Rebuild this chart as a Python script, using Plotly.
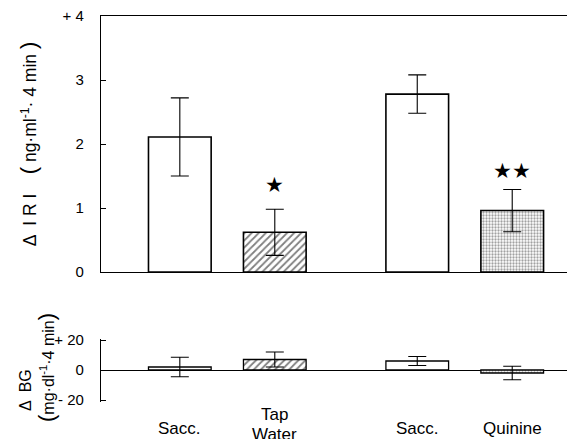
import plotly.graph_objects as go

# ---- data ----
categories = ["Sacc.", "Tap<br>Water", "Sacc.", "Quinine"]
x_pos = [1, 2, 3.5, 4.5]
iri_mean = [2.11, 0.62, 2.78, 0.96]
iri_sem = [0.61, 0.36, 0.30, 0.33]
bg_mean = [2.0, 7.0, 6.0, -2.0]
bg_sem = [6.5, 5.0, 3.0, 4.5]
stars = ["", "★", "", "★★"]
star_y = [None, 1.36, None, 1.58]
iri_ticks = [0, 1, 2, 3, 4]
iri_ticktext = ["0", "1", "2", "3", "+ 4"]
bg_ticks = [-20, 0, 20]
bg_ticktext = ["- 20", "0", "+ 20"]

# page is 575x439, body has an 8px margin; figure runs to the page's right/bottom edge
OFF = 8
W, H = 575 - OFF, 439 - OFF
FONT = "Liberation Sans, Arial, Helvetica, sans-serif"


def px(x):
    return (x - OFF) / W


def py(y):
    return 1 - (y - OFF) / H


patterns = [
    dict(shape=""),
    dict(shape="/", fgcolor="black", bgcolor="white", size=5, solidity=0.35),
    dict(shape=""),
    dict(shape=".", fgcolor="#444", bgcolor="white", size=3, solidity=0.45),
]

fig = go.Figure()
for i in range(len(categories)):
    fig.add_trace(go.Bar(
        x=[x_pos[i]], y=[iri_mean[i]], width=0.66,
        marker=dict(color="white", line=dict(color="black", width=1.6), pattern=patterns[i]),
        error_y=dict(type="data", array=[iri_sem[i]], color="black", thickness=1.1, width=9),
        xaxis="x", yaxis="y", showlegend=False))
    fig.add_trace(go.Bar(
        x=[x_pos[i]], y=[bg_mean[i]], width=0.66,
        marker=dict(color="white", line=dict(color="black", width=1.3), pattern=patterns[i]),
        error_y=dict(type="data", array=[bg_sem[i]], color="black", thickness=1.1, width=9),
        xaxis="x2", yaxis="y2", showlegend=False))

P = "<span style='font-size:22px'>{}</span>"
top_title = ("Δ  I R I    " + P.format("(") + " ng·ml<sup>-1</sup>· 4 min " + P.format(")"))
bot_title1 = "Δ  BG"
bot_title2 = P.format("(") + "mg·dl<sup>-1</sup>·4 min" + P.format(")")

xr = [0.17, 5.14]
xd = [px(101), px(573)]
yd2 = [py(401.5), py(338.5)]
fig.update_layout(
    width=W, height=H,
    margin=dict(l=0, r=0, t=0, b=0, autoexpand=False),
    paper_bgcolor="white", plot_bgcolor="rgba(0,0,0,0)",
    font=dict(family=FONT, size=15, color="black"),
    barmode="overlay", showlegend=False,
    xaxis=dict(domain=xd, range=xr, showticklabels=False, ticks="", showgrid=False,
               zeroline=False, showline=True, linecolor="black", linewidth=1.3, mirror=True,
               anchor="y", automargin=False),
    yaxis=dict(domain=[py(272), py(16)], range=[0, 4], tickvals=iri_ticks,
               ticktext=iri_ticktext, ticks="inside", ticklen=5, tickcolor="black",
               showgrid=False, zeroline=False, showline=True, linecolor="black", linewidth=1.3,
               mirror="ticks", ticklabelstandoff=13, ticklabeloverflow="allow",
               anchor="x", automargin=False,
               title=dict(text=top_title, font=dict(size=17.5), standoff=21)),
    xaxis2=dict(domain=xd, range=xr, showticklabels=False, ticks="", showgrid=False,
                zeroline=False, showline=False, anchor="y2", automargin=False),
    yaxis2=dict(domain=yd2, range=[-21, 21], tickvals=bg_ticks,
                ticktext=bg_ticktext, ticks="inside", ticklen=5, tickcolor="black",
                showgrid=False, zeroline=True, zerolinecolor="black", zerolinewidth=1.2,
                showline=True, linecolor="black", linewidth=1.3, mirror="ticks",
                ticklabelstandoff=13, ticklabeloverflow="allow",
                anchor="x2", automargin=False),
)

# lower y title: two rotated lines
fig.add_annotation(x=px(25), y=py(390), xref="paper", yref="paper", text=bot_title1,
                   textangle=-90, showarrow=False, xanchor="center", yanchor="middle",
                   font=dict(size=16, color="black"))
fig.add_annotation(x=px(46), y=py(368), xref="paper", yref="paper", text=bot_title2,
                   textangle=-90, showarrow=False, xanchor="center", yanchor="middle",
                   font=dict(size=16, color="black"))

# stars
for i in range(len(categories)):
    if stars[i]:
        fig.add_annotation(x=x_pos[i], y=star_y[i], xref="x", yref="y", text=stars[i],
                           showarrow=False, font=dict(size=21, color="black"))

# category labels (each line placed separately, tight line spacing like the original)
for i, c in enumerate(categories):
    lines = c.split("<br>")
    ys = [428] if len(lines) == 1 else [414, 434]
    for ln, yy in zip(lines, ys):
        fig.add_annotation(x=x_pos[i], y=py(yy), xref="x2", yref="paper",
                           text=ln, showarrow=False, yanchor="middle",
                           font=dict(size=17, color="black"))

fig.write_html("out.html")
